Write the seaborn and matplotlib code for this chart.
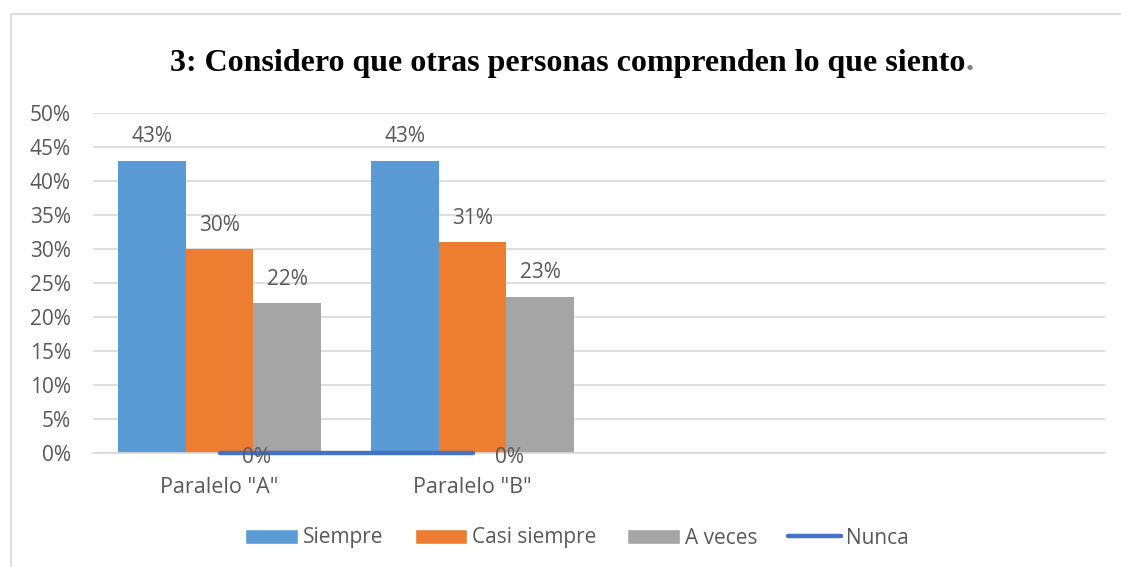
import matplotlib
matplotlib.use("Agg")
import matplotlib.pyplot as plt
import seaborn as sns
import pandas as pd
from matplotlib.patches import Rectangle
from matplotlib.lines import Line2D

categories = ['Paralelo "A"', 'Paralelo "B"']
slots = ['Paralelo "A"', 'Paralelo "B"', ' ', '  ']
series = ["Siempre", "Casi siempre", "A veces"]
siempre = [0.43, 0.43]
casi_siempre = [0.30, 0.31]
a_veces = [0.22, 0.23]
nunca = [0.0, 0.0]
colors = ["#5B9BD5", "#ED7D31", "#A5A5A5"]
line_color = "#4472C4"
title = "3: Considero que otras personas comprenden lo que siento"

rows = []
for s, vals in zip(series, [siempre, casi_siempre, a_veces]):
    for c, v in zip(categories, vals):
        rows.append({"cat": c, "serie": s, "val": v})
df = pd.DataFrame(rows)

sns.set_theme(style="white")
plt.rcParams["font.family"] = ["Open Sans", "DejaVu Sans"]
txt_col = "#595959"
fs = 15

fig = plt.figure(figsize=(11.21, 5.67), dpi=100)
W, H = 1121, 567
fig.patches.append(Rectangle((11 / W, -0.2), 1.2, 1.2 - 14 / H, transform=fig.transFigure,
                             fill=False, edgecolor="#d9d9d9", linewidth=1.2))
ax = fig.add_axes([93 / W, (H - 453) / H, (1105 - 93) / W, (453 - 113) / H])

sns.barplot(data=df, x="cat", y="val", hue="serie", order=slots, hue_order=series,
            palette=colors, width=0.8, ax=ax, saturation=1, legend=False, zorder=2,
            linewidth=0)

ax.set_ylim(0, 0.5)
ax.set_xlim(-0.5, len(slots) - 0.5)
ax.set_yticks([i * 0.05 for i in range(11)])
ax.set_yticklabels([f"{i*5}%" for i in range(11)])
ax.yaxis.grid(True, color="#d9d9d9", linewidth=1.2, zorder=0)
ax.set_axisbelow(True)
for sp in ["top", "right", "left"]:
    ax.spines[sp].set_visible(False)
ax.spines["bottom"].set_color("#d9d9d9")
ax.spines["bottom"].set_linewidth(1.2)
ax.tick_params(axis="y", length=0, pad=16, labelsize=fs, labelcolor=txt_col)
ax.tick_params(axis="x", length=0, pad=17, labelsize=fs + 0.5, labelcolor=txt_col)
ax.set_xlabel("")
ax.set_ylabel("")

for cont in ax.containers:
    for bar in cont:
        h = bar.get_height()
        if h != h:
            continue
        ax.annotate(f"{round(h*100)}%", (bar.get_x() + bar.get_width() / 2, h),
                    xytext=(0, 17), textcoords="offset points", ha="center", va="center",
                    fontsize=fs, color=txt_col)

xs = list(range(len(nunca)))
ax.plot(xs, nunca, color=line_color, linewidth=3.2, solid_capstyle="round", zorder=5,
        clip_on=False)
for x, v in zip(xs, nunca):
    ax.annotate(f"{round(v*100)}%", (x, v), xytext=(16, -3), textcoords="offset points",
                ha="left", va="center", fontsize=fs, color=txt_col, zorder=6)

t = fig.text(568 / W, 1 - 63 / H, title, ha="center", va="center",
             fontsize=23, fontweight="bold", family="Liberation Serif", color="black")
fig.canvas.draw()
bb = t.get_window_extent()
fig.text(bb.x1 / W, 1 - 63 / H, ".", ha="left", va="center", fontsize=23,
         fontweight="bold", family="Liberation Serif", color="#7f7f7f")

handles = [Rectangle((0, 0), 1, 1, facecolor=c) for c in colors]
handles.append(Line2D([0], [0], color=line_color, linewidth=3.2, solid_capstyle="round"))
fig.legend(handles, series + ["Nunca"], loc="center", bbox_to_anchor=(577 / W, 1 - 538 / H),
           ncol=4, frameon=False, fontsize=fs, handlelength=2.5, handleheight=0.7,
           handletextpad=0.25, columnspacing=1.5, labelcolor=txt_col)

fig.savefig("out.png", dpi=100)
